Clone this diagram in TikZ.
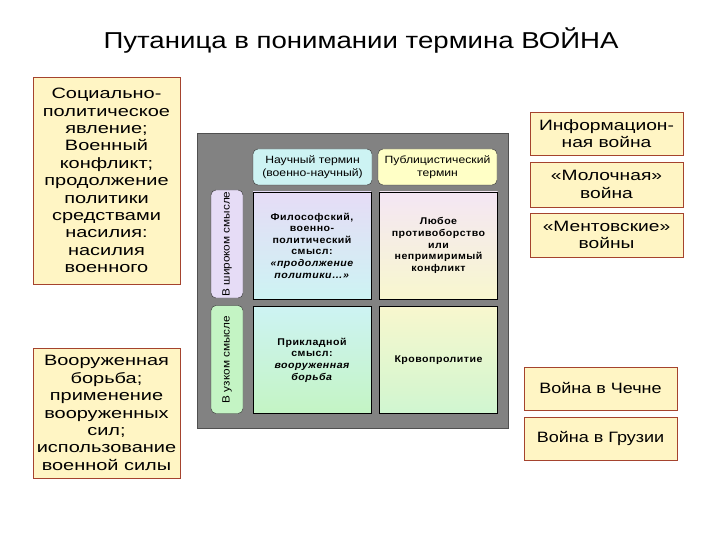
\documentclass[tikz,border=0pt]{standalone}
\usepackage{fontspec}
\setmainfont{Liberation Sans}
\usepackage{tikz}
\usetikzlibrary{positioning}

\definecolor{boxfill}{HTML}{FFF5C4}
\definecolor{boxline}{HTML}{A5432E}
\definecolor{panelgray}{HTML}{828282}
\definecolor{paneledge}{HTML}{505050}
\definecolor{lilac}{HTML}{E6DCF6}
\definecolor{aqua}{HTML}{CDF3F3}
\definecolor{mint}{HTML}{C4F4C4}
\definecolor{cream}{HTML}{F8F7CE}
\definecolor{pinkish}{HTML}{F4E6F4}
\definecolor{pale}{HTML}{FFFFC6}

\tikzset{
  yelbox/.style={draw=boxline, fill=boxfill, align=center, inner sep=1pt,
    font=\fontsize{15}{17.4}\selectfont\addfontfeature{FakeStretch=1.28}},
  widebox/.style={yelbox,
    font=\fontsize{15}{17.4}\selectfont\addfontfeature{FakeStretch=1.33}},
  headbox/.style={draw=black!80, rounded corners=5pt, align=center,
    minimum width=119pt, minimum height=36pt, inner sep=1pt,
    font=\fontsize{10.5}{13.5}\selectfont\addfontfeature{FakeStretch=1.16}},
  sidebox/.style={draw=black!80, rounded corners=5pt, rotate=90,
    minimum width=108pt, minimum height=32pt, inner sep=1pt,
    font=\fontsize{10.5}{12}\selectfont\addfontfeature{FakeStretch=1.12}},
  cellbox/.style={draw=black, align=center, text width=114pt,
    minimum width=118pt, minimum height=107pt, inner sep=1pt,
    font=\bfseries\fontsize{9.8}{11.6}\selectfont\addfontfeature{FakeStretch=1.08,LetterSpace=5}}
}

\begin{document}
\begin{tikzpicture}[x=1pt,y=-1pt]
  \useasboundingbox (0,0) rectangle (720,540);

  \node[font=\fontsize{23}{28}\selectfont\addfontfeature{FakeStretch=1.2}] (title) at (361,41)
    {Путаница в понимании термина ВОЙНА};

  % left column
  \node[widebox, minimum width=147pt, minimum height=207pt] (social) at (106.5,180.5)
    {Социально-\\политическое\\явление;\\Военный\\конфликт;\\продолжение\\политики\\средствами\\насилия:\\насилия\\военного};
  \node[widebox, minimum width=147pt, minimum height=130pt] (armed) at (106.5,413)
    {Вооруженная\\борьба;\\применение\\вооруженных\\сил;\\использование\\военной силы};

  % central table
  \node[draw=paneledge, fill=panelgray, minimum width=311pt, minimum height=295pt] (panel) at (352.5,280.5) {};
  \node[headbox, fill=aqua] (sci) at (312.5,167) {Научный термин\\(военно-научный)};
  \node[headbox, fill=pale] (pub) at (437.5,167) {Публицистический\\термин};
  \node[sidebox, fill=lilac] (wide) at (227,244) {В широком смысле};
  \node[sidebox, fill=mint] (narrow) at (227,359.5) {В узком смысле};

  \node[cellbox, top color=lilac, bottom color=aqua] (c11) at (312,245.5)
    {Философский,\\военно-\\политический\\смысл:\\\textit{«продолжение\\политики…»}};
  \node[cellbox, top color=pinkish, bottom color=cream] (c12) at (438.5,245.5)
    {Любое\\противоборство\\или\\непримиримый\\конфликт};
  \node[cellbox, top color=aqua, bottom color=mint] (c21) at (312,360)
    {Прикладной\\смысл:\\\textit{вооруженная\\борьба}};
  \node[cellbox, top color=cream, bottom color=mint!80] (c22) at (438.5,360)
    {Кровопролитие};

  % right column
  \node[yelbox, minimum width=153pt, minimum height=43pt] (info) at (606.5,133.5)
    {Информацион-\\ная война};
  \node[yelbox, minimum width=153pt, minimum height=45pt] (milk) at (606.5,184.5)
    {«Молочная»\\война};
  \node[yelbox, minimum width=153pt, minimum height=44pt] (cops) at (606.5,235)
    {«Ментовские»\\войны};
  \node[yelbox, minimum width=153pt, minimum height=43pt,
    font=\fontsize{15}{17.4}\selectfont\addfontfeature{FakeStretch=1.2}] (chech) at (600.5,388.5)
    {Война в Чечне};
  \node[yelbox, minimum width=153pt, minimum height=43pt,
    font=\fontsize{15}{17.4}\selectfont\addfontfeature{FakeStretch=1.2}] (georg) at (600.5,438.5)
    {Война в Грузии};
\end{tikzpicture}
\end{document}
